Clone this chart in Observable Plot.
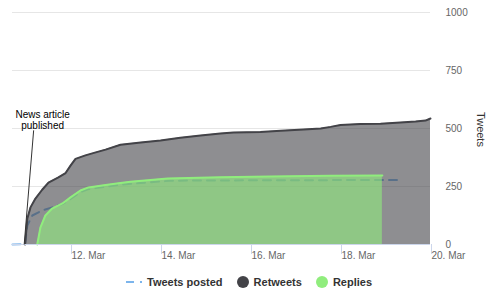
<!DOCTYPE html>
<html>
<head>
<meta charset="utf-8">
<script src="https://cdn.jsdelivr.net/npm/d3@7"></script>
<script src="https://cdn.jsdelivr.net/npm/@observablehq/plot@0.6"></script>
<style>
  html, body { margin: 0; padding: 0; background: #fff; }
  body { width: 490px; height: 293px; overflow: hidden; font-family: "Liberation Sans", Arial, sans-serif; }
  #legend { height: 23px; display: flex; justify-content: center; align-items: center; font-size: 11px; font-weight: bold; color: #333; padding-left: 8px; }
  #legend .item { display: flex; align-items: center; margin: 0 7px; }
  #legend svg { margin-right: 5px; }
</style>
</head>
<body>
<div id="chart"></div>
<div id="legend"></div>
<script>
// ---- data (days of March) ----
const seriesNames = ["Tweets posted", "Retweets", "Replies"];
const seriesColors = ["#7cb5ec", "#434348", "#90ed7d"];

const tweetDays   = [10.71, 10.99, 11.04, 11.15, 11.37, 11.59, 11.82, 12.0, 12.22, 12.4, 12.78, 13.11, 13.56, 14.22, 16.44, 19.29];
const tweetValues = [0, 2, 82, 125, 147, 160, 174, 196, 226, 239, 249, 258, 265, 275, 277, 278];

const retweetDays   = [10.99, 11.04, 11.11, 11.22, 11.37, 11.51, 11.73, 11.89, 12.0, 12.11, 12.33, 12.56, 12.78, 13.11, 13.56, 14.0, 14.44, 14.89, 15.33, 15.62, 16.22, 16.67, 17.18, 17.56, 17.78, 18.0, 18.44, 18.89, 19.33, 19.67, 19.89, 20.0];
const retweetValues = [0, 112, 160, 198, 236, 267, 289, 308, 340, 369, 384, 397, 409, 430, 440, 448, 460, 470, 478, 483, 485, 490, 496, 500, 507, 515, 519, 521, 526, 530, 534, 543];

const replyDays   = [11.26, 11.33, 11.44, 11.59, 11.82, 12.0, 12.22, 12.4, 12.78, 13.11, 13.33, 14.16, 15.33, 16.44, 17.78, 18.93];
const replyValues = [0, 73, 125, 155, 177, 203, 233, 246, 256, 265, 270, 284, 290, 293, 296, 297];

const xTickDays = [12, 14, 16, 18, 20];
const yTicks = [0, 250, 500, 750, 1000];
const xDomainDays = [10.71, 20.0];

const annLabel = "News article\npublished";
const annPoint = {day: 10.97, value: 0};
const annAnchor = {day: 11.18, value: 492};
const annTextAt = {day: 11.38, value: 500};

// ---- helpers ----
const toDate = d => new Date(Date.UTC(2016, 2, 1) + (d - 1) * 864e5);
const mk = (days, vals) => days.map((d, i) => ({date: toDate(d), value: vals[i]}));
const tweets = mk(tweetDays, tweetValues);
const retweets = mk(retweetDays, retweetValues);
const replies = mk(replyDays, replyValues);

const font = "'Liberation Sans', Arial, sans-serif";

const chart = Plot.plot({
  width: 490,
  height: 270,
  marginLeft: 12,
  marginRight: 60,
  marginTop: 12,
  marginBottom: 26,
  style: {fontFamily: font, fontSize: "10px", background: "#fff"},
  x: {type: "utc", domain: xDomainDays.map(toDate)},
  y: {domain: [0, 1000]},
  marks: [
    Plot.gridY(yTicks.filter(t => t > 0), {stroke: "#e6e6e6", strokeOpacity: 1}),
    Plot.axisX({ticks: xTickDays.map(toDate), tickFormat: d => `${d.getUTCDate()}. Mar`,
      tickSize: 10, tickPadding: -3, textAnchor: "start", dx: 1, stroke: "#ccd6eb", fill: "#666", label: null}),
    Plot.axisY({anchor: "right", ticks: yTicks, tickFormat: d => String(d), tickSize: 0, tickPadding: 15, fill: "#666", label: null}),
    Plot.text(["Tweets"], {frameAnchor: "right", textAnchor: "middle", rotate: 90, dx: 50, dy: 1, fill: "#333", fontSize: 11}),
    // Tweets posted
    Plot.line(tweets, {x: "date", y: "value", stroke: seriesColors[0], strokeWidth: 2, strokeDasharray: "8,6"}),
    // Retweets
    Plot.areaY(retweets, {x: "date", y: "value", fill: seriesColors[1], fillOpacity: 0.6}),
    Plot.line(retweets, {x: "date", y: "value", stroke: seriesColors[1], strokeWidth: 2}),
    // Replies
    Plot.areaY(replies, {x: "date", y: "value", fill: seriesColors[2], fillOpacity: 0.6}),
    Plot.line(replies, {x: "date", y: "value", stroke: seriesColors[2], strokeWidth: 2}),
    Plot.ruleY([0], {stroke: "#ccd6eb"}),
    // annotation
    Plot.link([0], {x1: () => toDate(annPoint.day), y1: () => annPoint.value,
      x2: () => toDate(annAnchor.day), y2: () => annAnchor.value, stroke: "#333", strokeWidth: 1}),
    Plot.text([annLabel], {x: () => toDate(annTextAt.day), y: () => annTextAt.value, text: d => d,
      lineAnchor: "bottom", fill: "#000", fontSize: 10, lineHeight: 1.05})
  ]
});
document.getElementById("chart").appendChild(chart);

// ---- legend ----
const legend = document.getElementById("legend");
seriesNames.forEach((name, i) => {
  const item = document.createElement("div");
  item.className = "item";
  const sym = i === 0
    ? `<svg width="16" height="12"><line x1="0" x2="16" y1="6" y2="6" stroke="${seriesColors[i]}" stroke-width="2" stroke-dasharray="8,6"/></svg>`
    : `<svg width="12" height="12"><circle cx="6" cy="6" r="6" fill="${seriesColors[i]}"/></svg>`;
  item.innerHTML = sym + `<span>${name}</span>`;
  legend.appendChild(item);
});
</script>
</body>
</html>
